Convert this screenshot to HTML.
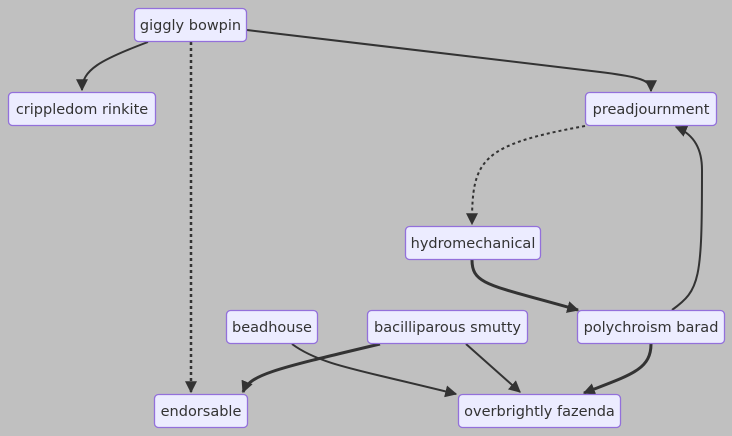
<!DOCTYPE html>
<html><head><style>
html,body{margin:0;padding:0;background:#c0c0c0;}
svg{display:block}
text{font-family:"DejaVu Sans","Liberation Sans",sans-serif;font-size:14.5px;fill:#333;}
rect{fill:#ECECFF;stroke:#9370DB;stroke-width:1.3;}
path{fill:none;stroke:#333;}
</style></head><body>
<svg width="732" height="436" viewBox="0 0 732 436" xmlns="http://www.w3.org/2000/svg">
<defs>
<marker id="b" viewBox="0 0 10 10" refX="9" refY="5" markerWidth="12" markerHeight="12" markerUnits="userSpaceOnUse" orient="auto"><path d="M0,0L10,5L0,10z" style="fill:#333;stroke:none"/></marker>
</defs>
<path d="M148,42 C100,60 82,70 82,90" stroke-width="2" marker-end="url(#b)"/>
<path d="M247,30 L600,72 C640,77 651,80 651,91" stroke-width="2" marker-end="url(#b)"/>
<path d="M191,42 L191,392" stroke-width="2.5" stroke-dasharray="3,3" marker-end="url(#b)"/>
<path d="M585,126 C480,145 472,160 472,224" stroke-width="2" stroke-dasharray="3,3" marker-end="url(#b)"/>
<path d="M472,260 C472,285 490,285 578,310" stroke-width="3" marker-end="url(#b)"/>
<path d="M672,310 C700,290 702,280 702,170 C702,150 695,135 676,127" stroke-width="2" marker-end="url(#b)"/>
<path d="M380,344 C270,370 250,375 243,392" stroke-width="3" marker-end="url(#b)"/>
<path d="M292,344 C320,365 360,370 456,394" stroke-width="2" marker-end="url(#b)"/>
<path d="M466,344 L520,392" stroke-width="2" marker-end="url(#b)"/>
<path d="M651,344 C651,370 630,375 584,393" stroke-width="3" marker-end="url(#b)"/>
<rect x="134.5" y="8.5" width="112" height="33" rx="4"/><text x="190.5" y="30" text-anchor="middle">giggly bowpin</text>
<rect x="8.5" y="92.5" width="147" height="33" rx="4"/><text x="82" y="114" text-anchor="middle">crippledom rinkite</text>
<rect x="585.5" y="92.5" width="131" height="33" rx="4"/><text x="651" y="114" text-anchor="middle">preadjournment</text>
<rect x="405.5" y="226.5" width="135" height="33" rx="4"/><text x="473" y="248" text-anchor="middle">hydromechanical</text>
<rect x="226.5" y="310.5" width="91" height="33" rx="4"/><text x="272" y="332" text-anchor="middle">beadhouse</text>
<rect x="367.5" y="310.5" width="160" height="33" rx="4"/><text x="447.5" y="332" text-anchor="middle">bacilliparous smutty</text>
<rect x="577.5" y="310.5" width="147" height="33" rx="4"/><text x="651" y="332" text-anchor="middle">polychroism barad</text>
<rect x="154.5" y="394.5" width="93" height="33" rx="4"/><text x="201" y="416" text-anchor="middle">endorsable</text>
<rect x="458.5" y="394.5" width="162" height="33" rx="4"/><text x="539.5" y="416" text-anchor="middle">overbrightly fazenda</text>
</svg>
</body></html>
